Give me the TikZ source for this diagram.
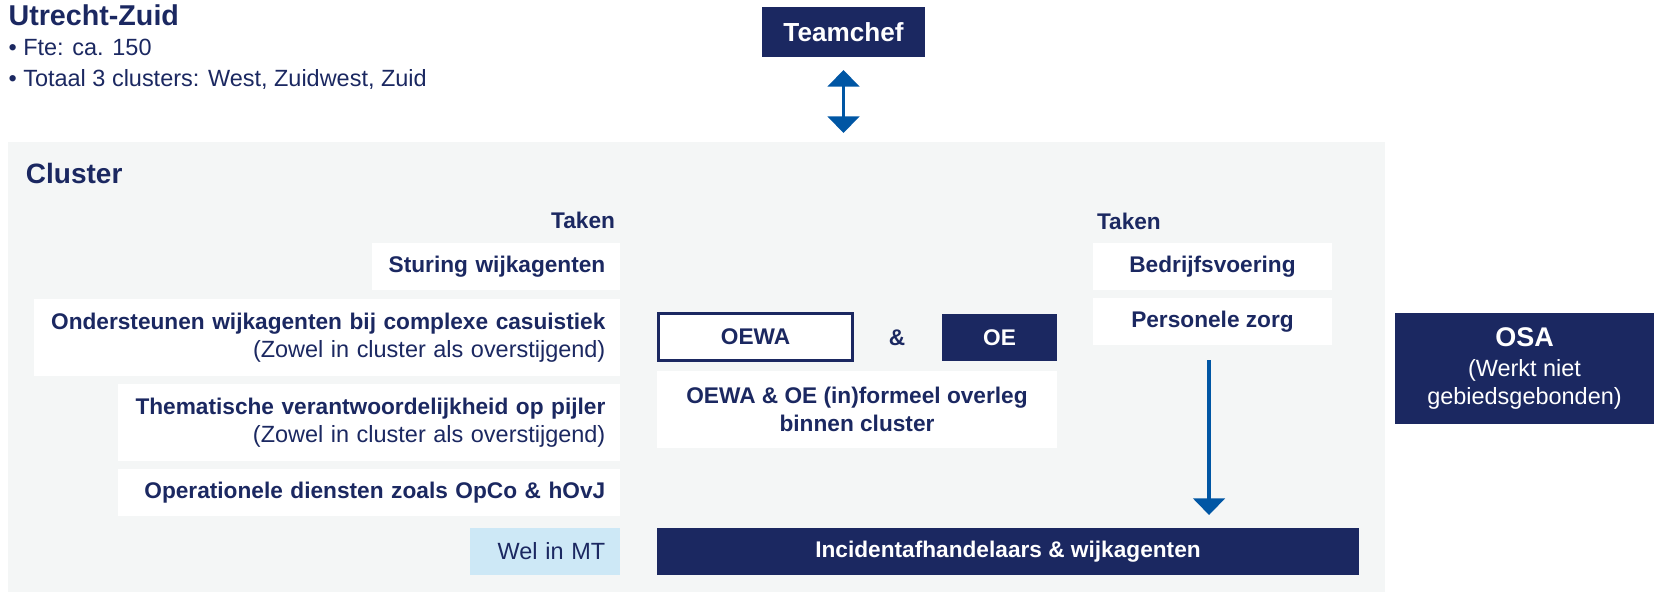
\documentclass[tikz,border=0pt]{standalone}
\usepackage{fontspec}
\setmainfont{Liberation Sans}
\usetikzlibrary{arrows.meta}
\definecolor{navy}{RGB}{27,40,97}
\definecolor{bggray}{RGB}{244,246,246}
\definecolor{lblue}{RGB}{205,232,246}
\definecolor{ablue}{RGB}{0,86,164}
\newcommand{\fsN}{\fontsize{17pt}{21pt}\selectfont}
\newcommand{\fsR}{\fontsize{17.6pt}{21pt}\selectfont}
\newcommand{\fsL}{\fontsize{21pt}{25pt}\selectfont}
\newcommand{\fsS}{\fontsize{17.6pt}{21pt}\selectfont}
\begin{document}
\begin{tikzpicture}[x=0.75pt,y=-0.75pt,
  base/.style={anchor=north west, inner sep=0pt, outer sep=0pt, text=navy, font=\fsN\bfseries, minimum height=35.25pt},
  rbox/.style={base, fill=white, align=right, inner xsep=11pt},
  cbox/.style={base, fill=white, align=center},
  dbox/.style={base, fill=navy, text=white, align=center},
  lbl/.style={inner sep=0pt, outer sep=0pt, text=navy},
  arr/.style={draw=ablue, line width=2.4pt, -{Triangle[width=23.7pt,length=12.5pt]}},
  dblarr/.style={draw=ablue, line width=2.4pt, {Triangle[width=23.7pt,length=12.5pt]}-{Triangle[width=23.7pt,length=12.5pt]}}
]
\useasboundingbox (0,0) rectangle (1654,592);
% header
\node[lbl, anchor=base west, font=\fontsize{21.5pt}{25pt}\selectfont\bfseries] (title) at (8.6,26) {Utrecht-Zuid};
\node[lbl, anchor=base west, font=\fsS] (fte) at (8.6,56) {• Fte: ca. 150};
\node[lbl, anchor=base west, font=\fsS] (tot) at (8.6,87) {• Totaal 3 clusters: West, Zuidwest, Zuid};
\node[dbox, minimum width=122.25pt, minimum height=37.5pt, font=\fontsize{19.6pt}{23pt}\selectfont\bfseries] (tc) at (762,7) {Teamchef};
% cluster background
\node[base, fill=bggray, minimum width=1032.75pt, minimum height=337.5pt] (bg) at (8,142) {};
\draw[dblarr] ([yshift=-9.75pt]tc.south) -- ([yshift=6.75pt]tc.south |- bg.north);
\node[lbl, anchor=base west, font=\fsL\bfseries] (cl) at (26,183) {Cluster};
% left column
\node[lbl, anchor=base east, font=\fsN\bfseries] (takenL) at (615,228) {Taken};
\node[rbox, text width=164pt, minimum width=186pt] (stu) at (372,243) {Sturing wijkagenten};
\node[rbox, text width=417.9pt, minimum width=439.9pt, minimum height=57.75pt] (ond) at (33.5,299)
  {Ondersteunen wijkagenten bij complexe casuistiek\\\mdseries\fsR (Zowel in cluster als overstijgend)};
\node[rbox, text width=354.5pt, minimum width=376.5pt, minimum height=57.75pt] (the) at (118,384)
  {Thematische verantwoordelijkheid op pijler\\\mdseries\fsR (Zowel in cluster als overstijgend)};
\node[rbox, text width=354.5pt, minimum width=376.5pt] (ope) at (118,469) {Operationele diensten zoals OpCo \& hOvJ};
\node[rbox, fill=lblue, text width=90.5pt, minimum width=112.5pt, font=\fsR\mdseries] (mt) at (470,528) {Wel in MT};
% middle
\node[cbox, draw=navy, line width=2.25pt, minimum width=145.5pt, minimum height=35.25pt] (oewa) at (658.5,313.5) {OEWA};
\node[lbl, font=\fsN\bfseries] (amp) at (897,338) {\&};
\node[dbox, minimum width=86.25pt] (oe) at (942,314) {OE};
\node[cbox, minimum width=300pt, minimum height=57.75pt] (ovl) at (657,371) {OEWA \& OE (in)formeel overleg\\binnen cluster};
\node[dbox, minimum width=526.5pt] (inc) at (657,528) {Incidentafhandelaars \& wijkagenten};
% right column
\node[lbl, anchor=base west, font=\fsN\bfseries] (takenR) at (1097,229) {Taken};
\node[cbox, minimum width=179.25pt] (bed) at (1093,243) {Bedrijfsvoering};
\node[cbox, minimum width=179.25pt] (pers) at (1093,298) {Personele zorg};
\draw[arr] ([xshift=-2.6pt,yshift=-11.25pt]pers.south) -- ([xshift=-2.6pt,yshift=9.75pt]pers.south |- inc.north);
% OSA
\node[dbox, minimum width=194.25pt, minimum height=83.25pt] (osa) at (1395,313)
  {{\fontsize{20.25pt}{24pt}\selectfont\bfseries OSA}\\[1pt]\mdseries\fsR (Werkt niet\\\mdseries\fsR gebiedsgebonden)};
\end{tikzpicture}
\end{document}
